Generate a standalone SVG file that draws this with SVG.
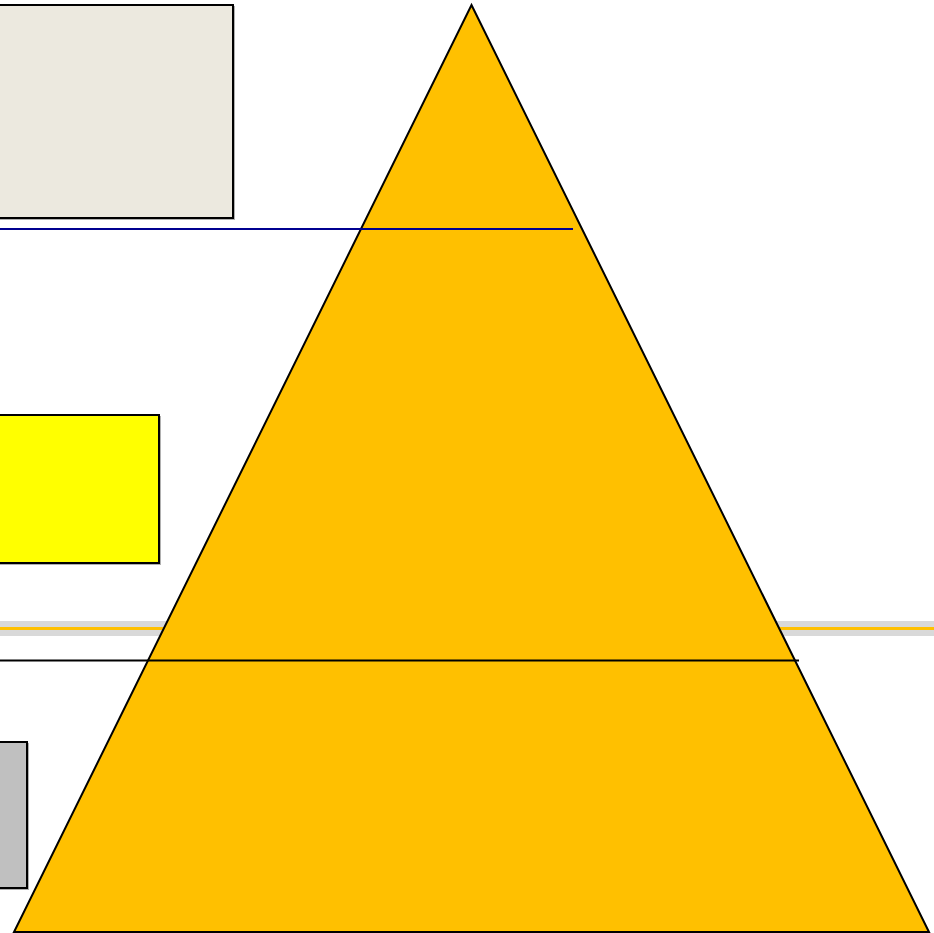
<svg xmlns="http://www.w3.org/2000/svg" width="934" height="933" viewBox="0 0 934 933">
<style>
.box{stroke:#000;stroke-width:2}
.shadow{fill:#b0b0b0}
</style>
<rect width="934" height="933" fill="#fff"/>
<g id="band">
<rect x="0" y="621" width="934" height="15" fill="#d9d9d9"/>
<rect x="0" y="627" width="934" height="3" fill="#ffc000"/>
</g>
<g id="box-top">
<rect class="shadow" x="-4" y="6" width="239" height="214"/>
<rect class="box" x="-4" y="5" width="237" height="213" fill="#ece9df"/>
</g>
<g id="box-yellow">
<rect class="shadow" x="-4" y="416" width="165" height="149"/>
<rect class="box" x="-4" y="415" width="163" height="148" fill="#ffff00"/>
</g>
<g id="box-gray">
<rect class="shadow" x="-4" y="743" width="33" height="147"/>
<rect class="box" x="-4" y="742" width="31" height="146" fill="#c0c0c0"/>
</g>
<g id="pyramid">
<polygon points="471.5,5 929,932 14,932" fill="#ffc000" stroke="#000" stroke-width="2" stroke-linejoin="miter"/>
</g>
<g id="connectors">
<line x1="0" y1="229" x2="573" y2="229" stroke="#000090" stroke-width="2"/>
<line x1="0" y1="660.5" x2="799" y2="660.5" stroke="#000" stroke-width="2"/>
</g>
</svg>
